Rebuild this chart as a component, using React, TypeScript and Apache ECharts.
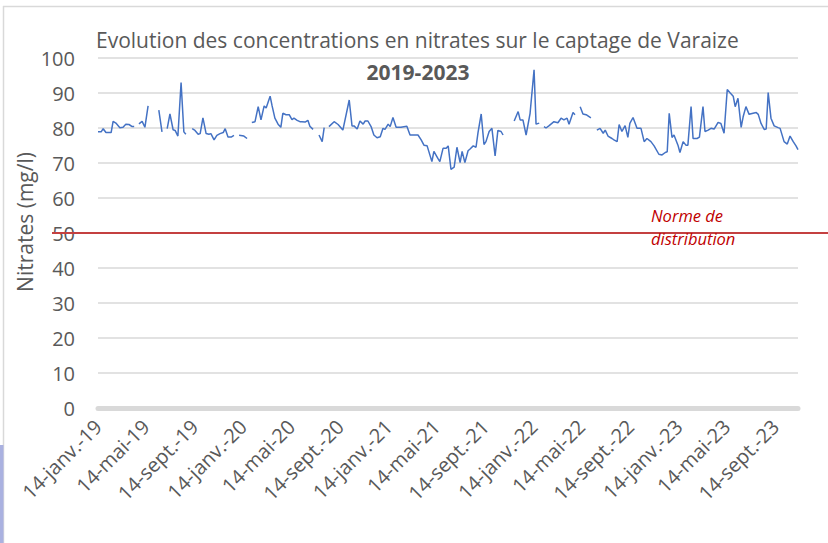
import React, { useEffect, useRef } from "react";
import * as echarts from "echarts";

// ---- Data ----
const sampleDates: string[] = [
  "2019-01-14","2019-01-22","2019-01-27","2019-02-03","2019-02-16","2019-02-21","2019-02-28","2019-03-10","2019-03-18","2019-03-25","2019-04-02","2019-04-10","2019-04-15",
  "2019-04-21",
  "2019-04-27","2019-05-05","2019-05-12","2019-05-20",
  "2019-06-03",
  "2019-06-16","2019-06-24",
  "2019-07-01",
  "2019-07-07","2019-07-14","2019-07-22","2019-07-27","2019-08-03","2019-08-11","2019-08-18","2019-08-23",
  "2019-09-01",
  "2019-09-08","2019-09-15","2019-09-23","2019-09-28","2019-10-05","2019-10-13","2019-10-20","2019-10-25","2019-11-02","2019-11-09","2019-11-17","2019-11-25","2019-11-30","2019-12-07","2019-12-15","2019-12-22",
  "2019-12-29",
  "2020-01-04","2020-01-16","2020-01-24",
  "2020-01-30",
  "2020-02-05","2020-02-13","2020-02-21","2020-02-28","2020-03-07","2020-03-12","2020-03-22","2020-03-27","2020-04-03","2020-04-11","2020-04-18","2020-04-23","2020-05-01","2020-05-09","2020-05-16","2020-05-21","2020-05-29","2020-06-05","2020-06-10","2020-06-18","2020-06-25","2020-06-30","2020-07-08",
  "2020-07-15",
  "2020-07-23","2020-07-31","2020-08-05",
  "2020-08-11",
  "2020-08-17","2020-08-30","2020-09-09","2020-09-21","2020-10-07","2020-10-14","2020-10-19","2020-10-27","2020-11-03","2020-11-11","2020-11-16","2020-11-23","2020-12-01","2020-12-08","2020-12-16","2020-12-24","2020-12-31",
  "2021-01-05","2021-01-13","2021-01-18","2021-01-25","2021-02-02","2021-02-14","2021-03-01","2021-03-09","2021-03-22","2021-03-29","2021-04-06","2021-04-13","2021-04-21","2021-05-03","2021-05-08","2021-05-18","2021-05-23","2021-05-31","2021-06-08","2021-06-13","2021-06-20","2021-06-28","2021-07-05","2021-07-13","2021-07-18","2021-07-25","2021-08-02","2021-08-07","2021-08-15","2021-08-22","2021-08-27","2021-09-04","2021-09-11","2021-09-16","2021-09-24","2021-10-01","2021-10-09","2021-10-16","2021-10-24","2021-10-29",
  "2021-11-12",
  "2021-11-26","2021-12-06","2021-12-11","2021-12-18","2021-12-26","2022-01-05","2022-01-15","2022-01-20","2022-01-28",
  "2022-02-03",
  "2022-02-09","2022-02-14","2022-02-22","2022-03-06","2022-03-16","2022-03-24","2022-03-31","2022-04-08","2022-04-13","2022-04-23","2022-04-28",
  "2022-05-04",
  "2022-05-11","2022-05-18","2022-05-26","2022-06-07",
  "2022-06-14",
  "2022-06-22","2022-06-30","2022-07-08","2022-07-13","2022-07-20","2022-07-30","2022-08-04","2022-08-12","2022-08-17","2022-08-24","2022-09-01","2022-09-08","2022-09-13","2022-09-21","2022-10-01","2022-10-11","2022-10-19","2022-10-26","2022-11-05","2022-11-13","2022-11-25","2022-12-03","2022-12-11","2022-12-16","2022-12-21","2022-12-28",
  "2023-01-02","2023-01-12","2023-01-17","2023-01-25","2023-02-01","2023-02-06","2023-02-14","2023-02-19","2023-03-01","2023-03-07","2023-03-16","2023-03-21","2023-03-29","2023-04-05","2023-04-13","2023-04-23","2023-04-30","2023-05-08","2023-05-16","2023-05-23","2023-05-31","2023-06-05","2023-06-12","2023-06-20","2023-06-25","2023-07-02","2023-07-10","2023-07-20","2023-07-28","2023-08-02","2023-08-09","2023-08-17","2023-08-22","2023-08-27","2023-09-03","2023-09-11","2023-09-21","2023-09-26","2023-10-06","2023-10-14","2023-10-21","2023-10-29","2023-11-05","2023-11-10",
];

const nitrates: (number | null)[] = [
  78.9,78.9,79.8,78.7,78.7,81.9,81.4,80.1,80.2,81.1,81.0,80.4,80.4,
  null,
  81.2,81.9,80.2,86.3,
  null,
  85.1,78.9,
  null,
  79.8,84.0,79.5,79.3,77.7,93.0,78.9,78.2,
  null,
  79.8,79.3,78.2,78.4,82.9,78.4,78.2,78.4,76.6,77.9,78.4,78.7,79.8,77.4,77.4,77.9,
  null,
  77.9,77.7,77.0,
  null,
  81.6,81.8,86.1,82.3,86.3,85.7,89.1,86.3,82.8,81.1,80.2,84.2,83.8,83.8,82.4,82.8,82.2,81.8,81.8,81.7,82.2,80.5,79.6,
  null,
  78.0,76.1,80.1,
  null,
  80.4,81.8,81.0,79.4,88.0,80.6,80.6,79.7,82.0,81.1,82.0,82.0,80.4,78.0,77.2,77.5,79.9,
  79.6,81.1,80.4,83.0,80.2,80.2,80.5,78.0,78.0,78.0,76.6,75.1,74.9,70.4,73.3,71.3,70.4,74.2,74.2,74.9,68.2,68.8,74.5,70.1,73.3,70.1,73.5,74.0,74.9,74.5,78.7,84.0,75.3,76.1,79.0,79.9,72.0,79.3,79.0,78.0,
  null,
  82.0,84.7,82.3,82.3,78.0,84.2,96.6,81.1,81.4,
  null,
  80.4,80.0,80.7,81.8,81.5,82.8,82.3,82.8,81.1,84.4,83.8,
  null,
  86.1,84.0,83.8,82.9,
  null,
  79.4,79.9,78.5,79.4,77.7,77.0,76.6,76.1,81.0,79.0,80.7,77.3,81.3,83.0,79.9,79.9,76.1,77.0,76.1,74.9,72.5,72.3,73.0,73.2,84.2,77.3,
  78.0,75.1,73.0,76.1,75.1,75.1,86.1,77.0,77.0,77.4,86.1,79.0,79.4,79.9,79.7,81.6,81.3,78.5,91.0,90.1,89.1,86.1,88.5,80.2,83.2,86.1,83.9,84.2,84.4,83.9,81.3,79.6,79.7,90.1,82.8,80.6,80.1,79.9,76.1,75.4,77.7,76.1,74.9,73.8,
];

const tickDates: string[] = [
  "2019-01-14","2019-05-14","2019-09-14","2020-01-14","2020-05-14","2020-09-14",
  "2021-01-14","2021-05-14","2021-09-14","2022-01-14","2022-05-14","2022-09-14",
  "2023-01-14","2023-05-14","2023-09-14",
];
const tickLabels: string[] = [
  "14-janv.-19","14-mai-19","14-sept.-19","14-janv.-20","14-mai-20","14-sept.-20",
  "14-janv.-21","14-mai-21","14-sept.-21","14-janv.-22","14-mai-22","14-sept.-22",
  "14-janv.-23","14-mai-23","14-sept.-23",
];

const normValue = 50;
const titleText = "Evolution des concentrations en nitrates sur le captage de Varaize";
const subTitleText = "2019-2023";
const yAxisName = "Nitrates (mg/l)";
const normLabel = "Norme de\ndistribution";

const toTs = (s: string) => new Date(s + "T00:00:00Z").getTime();

const FONT = "'Open Sans', 'Noto Sans', sans-serif";
const GREY = "#595959";

export default function App() {
  const ref = useRef<HTMLDivElement>(null);

  useEffect(() => {
    document.body.style.margin = "0";
    if (!ref.current) return;
    const chart = echarts.init(ref.current, undefined, { renderer: "svg" });

    const labelMap = new Map<number, string>();
    tickDates.forEach((d, i) => labelMap.set(toTs(d), tickLabels[i]));

    const data = sampleDates.map((d, i) => [toTs(d), nitrates[i] === null ? "-" : nitrates[i]]);

    chart.setOption({
      animation: false,
      backgroundColor: "#ffffff",
      grid: { left: 98, right: 30, top: 58, bottom: 135, containLabel: false, outerBoundsMode: "none" },
      xAxis: {
        type: "value",
        min: toTs(sampleDates[0]),
        max: toTs(sampleDates[sampleDates.length - 1]),
        axisLine: { show: true, onZero: false, lineStyle: { color: "#d9d9d9", width: 5 } },
        axisTick: { show: false },
        splitLine: { show: false },
        axisLabel: {
          customValues: tickDates.map(toTs),
          formatter: (v: number) => labelMap.get(v) ?? "",
          rotate: 45,
          margin: 15,
          fontSize: 20,
          fontFamily: FONT,
          color: GREY,
          showMinLabel: true,
          showMaxLabel: true,
          hideOverlap: false,
        },
      },
      yAxis: {
        type: "value",
        min: 0,
        max: 100,
        interval: 10,
        axisLine: { show: false },
        axisTick: { show: false },
        splitLine: { show: true, lineStyle: { color: "#d9d9d9", width: 1.5 } },
        axisLabel: { fontSize: 20, fontFamily: FONT, color: GREY, margin: 23 },
      },
      series: [
        {
          type: "line",
          data,
          showSymbol: false,
          connectNulls: false,
          lineStyle: { color: "#4472c4", width: 1.5 },
          itemStyle: { color: "#4472c4" },
        },
      ],
    });

    const y50 = chart.convertToPixel({ yAxisIndex: 0 }, normValue) as number;

    chart.setOption({
      graphic: [
        { type: "line", shape: { x1: 3, y1: 6.5, x2: 828, y2: 6.5 }, style: { stroke: "#d9d9d9", lineWidth: 1.5 } },
        { type: "line", shape: { x1: 3.5, y1: 6, x2: 3.5, y2: 543 }, style: { stroke: "#d9d9d9", lineWidth: 1.5 } },
        { type: "rect", shape: { x: 0, y: 445, width: 3.5, height: 98 }, style: { fill: "#aab1e0" } },
        {
          type: "text", x: 96, y: 40,
          style: { text: titleText, font: `normal 21px ${FONT}`, fill: GREY, textVerticalAlign: "middle", textAlign: "left" },
        },
        {
          type: "text", x: 418, y: 72,
          style: { text: subTitleText, font: `bold 21px ${FONT}`, fill: GREY, textVerticalAlign: "middle", textAlign: "center" },
        },
        {
          type: "text", x: 25, y: 222, rotation: Math.PI / 2,
          style: { text: yAxisName, font: `normal 21px ${FONT}`, fill: GREY, textVerticalAlign: "middle", textAlign: "center" },
        },
        { type: "line", z: 10, shape: { x1: 52, y1: y50, x2: 828, y2: y50 }, style: { stroke: "#c44040", lineWidth: 2 } },
        {
          type: "text", x: 651, y: y50 - 6, z: 11,
          style: { text: normLabel, font: `italic 16.5px ${FONT}`, fill: "#c00000", lineHeight: 23, textVerticalAlign: "middle", textAlign: "left" },
        },
      ],
    });

    return () => chart.dispose();
  }, []);

  return <div ref={ref} style={{ position: "fixed", left: 0, top: 0, width: 828, height: 543 }} />;
}
